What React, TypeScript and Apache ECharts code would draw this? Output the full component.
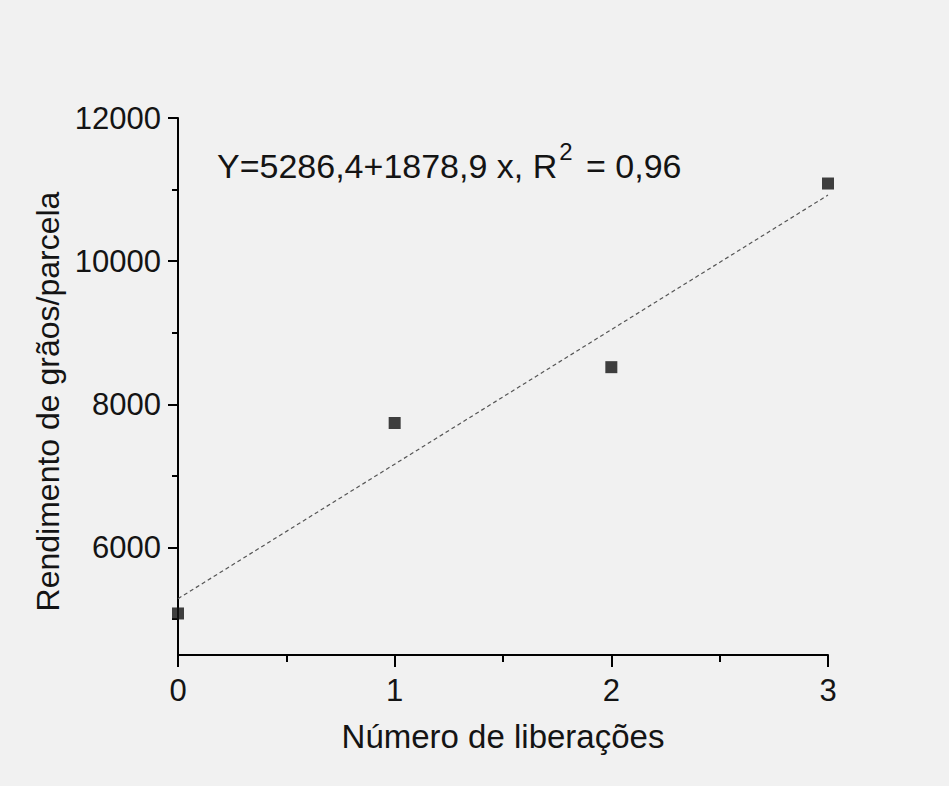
import React, { useEffect, useRef } from "react";
import * as echarts from "echarts";

const liberacoes = [0, 1, 2, 3];
const rendimento = [5080, 7740, 8520, 11085];
const yMajorTicks = [6000, 8000, 10000, 12000];
const yMinorTicks = [5000, 7000, 9000, 11000];
const intercept = 5286.4;
const slope = 1878.9;
const equationText = "Y=5286,4+1878,9 x, R";
const equationSup = "2";
const equationTail = " = 0,96";
const xTitle = "Número de liberações";
const yTitle = "Rendimento de grãos/parcela";

const FONT = "Liberation Sans, Arial, sans-serif";
const INK = "#141414";

export default function App() {
  const ref = useRef<HTMLDivElement>(null);
  useEffect(() => {
    if (!ref.current) return;
    const chart = echarts.init(ref.current, null, { renderer: "svg" });
    const fitLine = [
      [liberacoes[0], intercept + slope * liberacoes[0]],
      [liberacoes[liberacoes.length - 1], intercept + slope * liberacoes[liberacoes.length - 1]],
    ];
    chart.setOption({
      animation: false,
      backgroundColor: "#f1f1f1",
      textStyle: { fontFamily: FONT },
      title: {
        left: 212,
        top: 134,
        text: `{a|${equationText}}{b|${equationSup}}{a|${equationTail}}`,
        textStyle: {
          fontWeight: "normal",
          rich: {
            a: { fontSize: 34, fontFamily: FONT, fontWeight: "normal", color: INK, lineHeight: 44, verticalAlign: "bottom" },
            b: { fontSize: 24, fontFamily: FONT, fontWeight: "normal", color: INK, lineHeight: 44, verticalAlign: "top", padding: [0, 4, 0, 2] },
          },
        },
      },
      grid: { left: 178, right: 121, top: 118, bottom: 131, containLabel: false },
      xAxis: {
        type: "value",
        min: 0,
        max: 3,
        interval: 1,
        name: xTitle,
        nameLocation: "middle",
        nameGap: 65,
        nameTextStyle: { fontSize: 33, color: INK, fontFamily: FONT },
        axisLine: { show: true, lineStyle: { color: "#000", width: 2 } },
        axisTick: { show: true, length: 12, lineStyle: { color: "#000", width: 2 } },
        minorTick: { show: true, splitNumber: 2, length: 7, lineStyle: { color: "#000", width: 2 } },
        axisLabel: { fontSize: 31, color: INK, margin: 20, fontFamily: FONT },
        splitLine: { show: false },
        minorSplitLine: { show: false },
      },
      yAxis: [
        {
          type: "value",
          min: 4500,
          max: 12000,
          position: "left",
          name: yTitle,
          nameLocation: "middle",
          nameRotate: 90,
          nameGap: 92,
          nameTextStyle: { fontSize: 32, color: INK, fontFamily: FONT, padding: [0, 30, 0, 0] },
          axisLine: { show: true, lineStyle: { color: "#000", width: 2 } },
          axisTick: { show: true, length: 10, customValues: yMajorTicks, lineStyle: { color: "#000", width: 2 } },
          axisLabel: {
            fontSize: 31,
            color: INK,
            margin: 17,
            customValues: yMajorTicks,
            fontFamily: FONT,
            formatter: (v: number) => String(v),
          },
          splitLine: { show: false },
        },
        {
          type: "value",
          min: 4500,
          max: 12000,
          position: "left",
          axisLine: { show: false },
          axisTick: { show: true, length: 6, customValues: yMinorTicks, lineStyle: { color: "#000", width: 2 } },
          axisLabel: { show: false },
          splitLine: { show: false },
        },
      ],
      series: [
        {
          type: "line",
          data: fitLine,
          symbol: "none",
          lineStyle: { color: "#555", width: 1.2, type: [4, 3] },
          z: 1,
        },
        {
          type: "scatter",
          data: liberacoes.map((x, i) => [x, rendimento[i]]),
          symbol: "rect",
          symbolSize: 12,
          itemStyle: { color: "#111" },
          z: 3,
        },
      ],
    });
    return () => chart.dispose();
  }, []);
  return (
    <div
      ref={ref}
      style={{ position: "absolute", left: 0, top: 0, width: 949, height: 786 }}
    />
  );
}
